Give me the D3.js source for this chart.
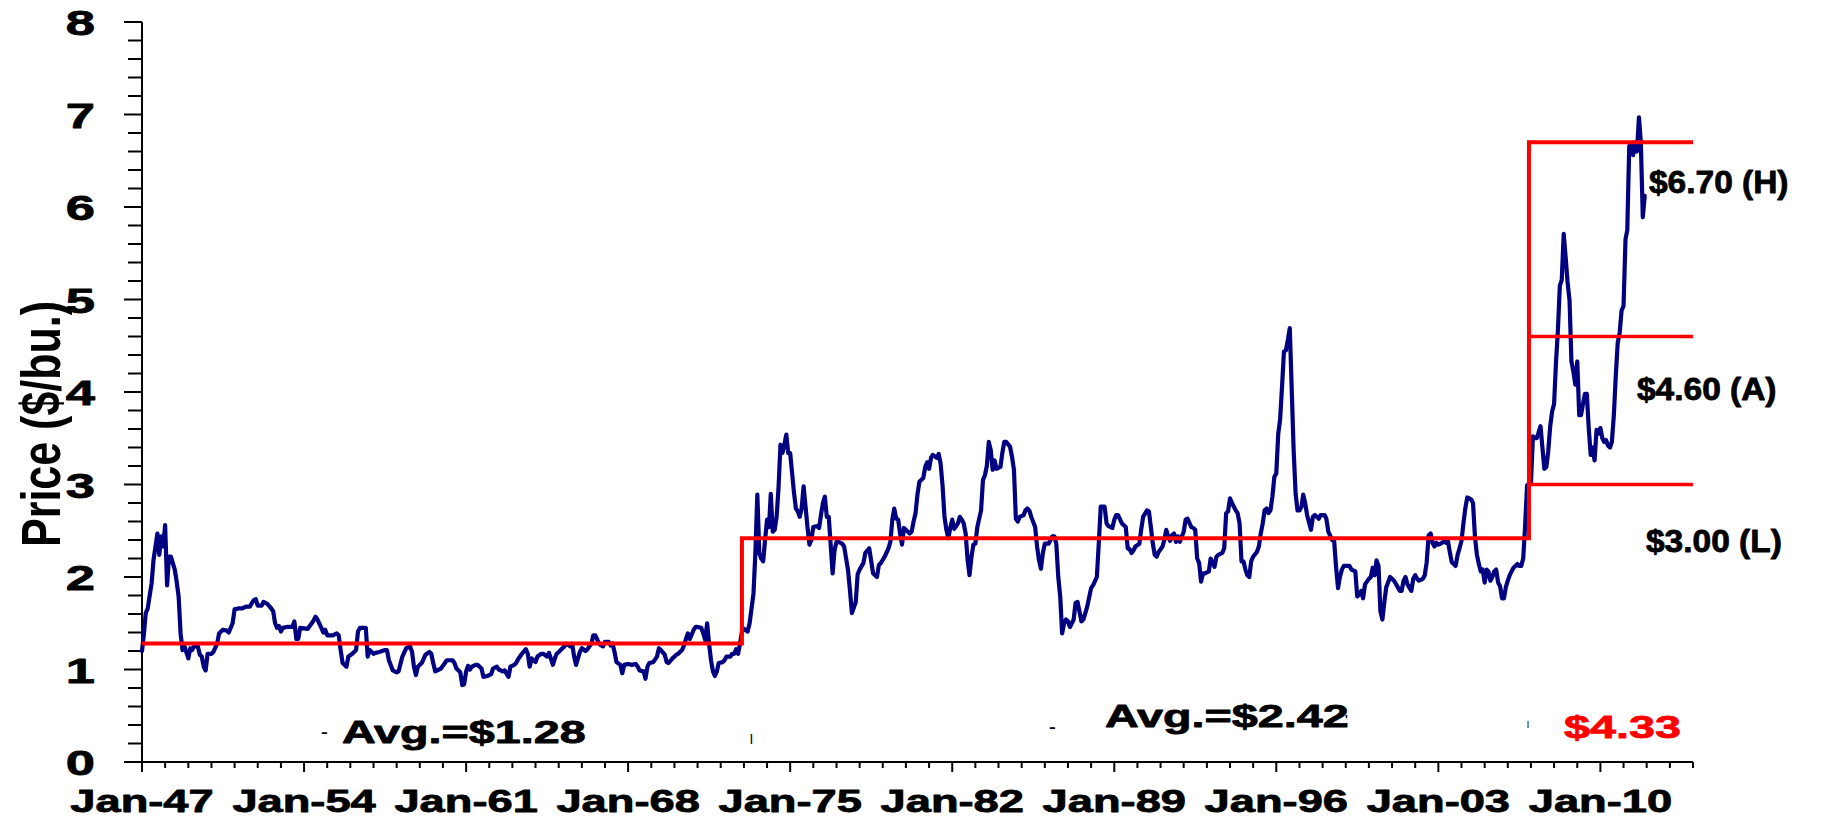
<!DOCTYPE html>
<html><head><meta charset="utf-8">
<script src="https://cdn.jsdelivr.net/npm/d3@7"></script>
<style>html,body{margin:0;padding:0;background:#fff;}svg{display:block;}</style>
</head><body>
<svg id="chart" width="1825" height="822"></svg>
<script>
// ---------------- DATA ----------------
// monthly corn price, [months since Jan-1947, $/bu]
const startMonth = "1947-01";
const corn1947to1959 = [[0,1.20],[1,1.39],[2,1.61],[3,1.66],[5,1.93],[6,2.18],[8,2.47],[9,2.24],[10,2.44],[11,2.33],[12,2.56],[13,1.91],[14,2.22],[15,2.22],[17,2.08],[18,1.95],[19,1.79],[20,1.39],[21,1.21],[22,1.25],[24,1.12],[25,1.23],[26,1.21],[27,1.25],[29,1.25],[30,1.16],[31,1.14],[32,1.03],[33,0.99],[34,1.17],[36,1.17],[37,1.19],[39,1.28],[40,1.39],[42,1.43],[44,1.42],[45,1.40],[47,1.50],[48,1.65],[50,1.66],[52,1.66],[54,1.68],[56,1.68],[57,1.72],[58,1.75],[59,1.76],[60,1.69],[62,1.69],[63,1.73],[65,1.71],[67,1.66],[68,1.63],[69,1.50],[70,1.45],[71,1.47],[72,1.41],[73,1.45],[75,1.46],[78,1.46],[79,1.52],[80,1.33],[81,1.33],[82,1.45],[86,1.44],[87,1.47],[89,1.53],[90,1.57],[91,1.54],[93,1.45],[94,1.40],[95,1.43],[96,1.37],[99,1.37],[101,1.39],[102,1.37],[103,1.21],[104,1.07],[106,1.03],[107,1.14],[109,1.17],[111,1.21],[112,1.41],[113,1.45],[116,1.45],[117,1.14],[118,1.21],[120,1.17],[121,1.18],[123,1.19],[126,1.21],[127,1.21],[128,1.10],[130,0.99],[132,0.97],[133,0.98],[135,1.14],[137,1.23],[139,1.25],[140,1.19],[141,1.03],[142,0.94],[143,1.03],[145,1.07],[147,1.16],[149,1.19],[150,1.17],[151,1.07],[152,0.98],[154,1.00]];
const corn1960to1972 = [[155,1.01],[157,1.07],[158,1.10],[161,1.10],[162,1.07],[163,1.01],[165,0.97],[166,0.83],[167,0.84],[168,0.98],[169,1.04],[170,1.00],[171,1.03],[173,1.05],[174,1.05],[176,1.01],[177,0.92],[179,0.93],[181,0.95],[182,1.01],[184,1.03],[185,1.00],[187,0.98],[188,0.99],[190,0.92],[191,1.03],[193,1.05],[194,1.07],[195,1.11],[197,1.17],[199,1.22],[200,1.17],[201,1.03],[202,1.12],[204,1.08],[205,1.14],[207,1.17],[208,1.17],[210,1.14],[211,1.18],[213,1.05],[214,1.12],[215,1.17],[216,1.19],[218,1.23],[219,1.25],[220,1.28],[222,1.25],[223,1.28],[224,1.14],[225,1.05],[226,1.12],[227,1.19],[228,1.23],[230,1.20],[231,1.22],[232,1.25],[233,1.28],[234,1.37],[235,1.37],[237,1.28],[238,1.26],[239,1.25],[240,1.30],[242,1.30],[243,1.26],[244,1.28],[245,1.19],[246,1.08],[248,1.05],[249,0.96],[250,1.05],[252,1.06],[254,1.05],[256,1.06],[257,1.03],[258,0.99],[260,0.98],[261,0.90],[262,1.03],[263,1.07],[265,1.08],[267,1.14],[268,1.23],[269,1.21],[271,1.16],[272,1.08],[273,1.07],[275,1.12],[277,1.16],[278,1.17],[280,1.21],[281,1.26],[282,1.33],[283,1.39],[284,1.33],[286,1.43],[287,1.46],[288,1.46],[290,1.45],[291,1.39],[292,1.32],[293,1.50],[294,1.28],[295,1.10],[296,0.98],[297,0.93],[298,0.98],[299,1.07],[301,1.08],[302,1.10],[303,1.14],[305,1.14],[306,1.17],[307,1.17],[308,1.22],[309,1.17],[310,1.28],[311,1.41]];
const corn1973to1985 = [[312,1.44],[314,1.41],[315,1.50],[317,1.82],[318,2.26],[319,2.89],[320,2.26],[321,2.20],[322,2.17],[323,2.40],[324,2.62],[325,2.54],[326,2.90],[327,2.49],[328,2.51],[329,2.65],[330,2.96],[331,3.43],[332,3.34],[333,3.43],[334,3.54],[335,3.34],[336,3.34],[337,3.12],[338,2.92],[339,2.74],[340,2.71],[341,2.65],[342,2.74],[343,2.98],[344,2.76],[345,2.54],[346,2.35],[347,2.40],[348,2.54],[350,2.55],[351,2.53],[352,2.67],[353,2.80],[354,2.87],[355,2.65],[356,2.65],[358,2.04],[359,2.29],[360,2.38],[361,2.38],[363,2.36],[364,2.33],[366,2.08],[367,1.86],[368,1.61],[370,1.73],[371,2.03],[372,2.08],[374,2.15],[375,2.26],[377,2.31],[378,2.18],[379,2.04],[381,2.00],[382,2.13],[383,2.15],[385,2.22],[387,2.31],[388,2.38],[389,2.62],[390,2.74],[391,2.63],[392,2.62],[393,2.47],[394,2.35],[395,2.53],[396,2.51],[398,2.47],[399,2.49],[400,2.60],[401,2.69],[402,2.89],[403,3.03],[405,3.07],[406,3.19],[407,3.24],[408,3.17],[409,3.29],[410,3.32],[412,3.29],[413,3.33],[414,3.23],[415,2.99],[416,2.65],[417,2.51],[418,2.42],[419,2.53],[420,2.62],[421,2.52],[423,2.58],[424,2.65],[425,2.62],[426,2.58],[427,2.47],[428,2.18],[429,2.02],[430,2.22],[431,2.35],[432,2.36],[433,2.54],[435,2.72],[436,3.05],[437,3.10],[438,3.20],[439,3.46],[440,3.37],[441,3.16],[442,3.26],[443,3.17],[445,3.19],[446,3.34],[447,3.46],[448,3.46],[450,3.41],[451,3.30],[452,3.16],[453,2.63],[454,2.60],[455,2.65],[457,2.67],[458,2.72],[459,2.74],[460,2.72],[461,2.65],[463,2.54],[464,2.33],[465,2.18],[466,2.09],[467,2.26]];
const corn1986to1998 = [[468,2.36],[470,2.36],[472,2.44],[473,2.44],[474,2.36],[475,2.00],[476,1.79],[477,1.39],[478,1.50],[479,1.54],[480,1.52],[481,1.46],[483,1.54],[484,1.72],[485,1.73],[486,1.63],[487,1.52],[488,1.54],[490,1.68],[492,1.88],[493,1.91],[495,2.00],[496,2.36],[497,2.76],[499,2.76],[500,2.58],[501,2.55],[503,2.53],[504,2.62],[505,2.67],[506,2.67],[508,2.58],[509,2.56],[510,2.54],[511,2.31],[512,2.30],[513,2.26],[514,2.29],[515,2.33],[517,2.36],[518,2.51],[519,2.65],[521,2.72],[522,2.71],[523,2.54],[524,2.36],[525,2.24],[526,2.22],[527,2.27],[529,2.33],[530,2.40],[531,2.51],[532,2.44],[533,2.39],[534,2.45],[535,2.47],[536,2.38],[537,2.44],[538,2.38],[540,2.49],[541,2.62],[542,2.63],[544,2.54],[545,2.53],[546,2.51],[547,2.20],[548,2.15],[549,1.95],[550,2.04],[551,2.04],[553,2.06],[554,2.20],[556,2.11],[557,2.22],[558,2.24],[560,2.26],[561,2.31],[562,2.69],[563,2.71],[564,2.85],[565,2.80],[567,2.72],[568,2.69],[569,2.58],[570,2.17],[571,2.17],[572,2.08],[573,2.02],[574,2.00],[575,2.17],[576,2.22],[578,2.27],[579,2.33],[580,2.47],[581,2.58],[582,2.72],[583,2.74],[584,2.69],[585,2.72],[586,2.87],[587,3.08],[588,3.12],[589,3.55],[590,3.70],[591,4.06],[592,4.44],[593,4.45],[594,4.56],[595,4.69],[596,4.02],[597,3.37],[598,2.90],[599,2.72],[600,2.72],[601,2.76],[602,2.89],[603,2.80],[604,2.67],[606,2.51],[607,2.65],[608,2.67],[610,2.63],[611,2.67],[613,2.67],[614,2.63],[615,2.49],[617,2.40],[618,2.40],[619,2.11],[620,1.88],[621,2.00]];
const corn1999to2011 = [[622,2.08],[623,2.12],[624,2.12],[626,2.12],[627,2.08],[629,2.06],[630,1.79],[631,1.81],[632,1.85],[633,1.77],[634,1.92],[636,1.98],[637,2.00],[638,2.10],[639,2.02],[640,2.18],[641,2.12],[642,1.63],[643,1.54],[644,1.73],[645,1.89],[647,2.00],[648,1.98],[649,1.96],[651,1.89],[652,1.85],[653,1.85],[654,1.96],[655,2.00],[656,1.92],[658,1.85],[659,1.98],[660,2.02],[661,1.98],[662,1.96],[664,1.98],[665,2.02],[666,2.16],[667,2.45],[668,2.47],[669,2.37],[670,2.33],[671,2.37],[672,2.35],[674,2.37],[675,2.39],[676,2.37],[677,2.39],[678,2.27],[679,2.16],[680,2.14],[681,2.12],[682,2.24],[683,2.31],[684,2.39],[685,2.58],[686,2.74],[687,2.86],[689,2.84],[690,2.80],[691,2.43],[692,2.24],[693,2.14],[694,2.06],[695,2.08],[696,1.94],[697,2.08],[698,2.06],[699,1.96],[700,2.00],[701,2.06],[702,2.08],[703,1.94],[704,1.90],[705,1.77],[706,1.77],[707,1.89],[708,1.96],[709,2.02],[710,2.06],[711,2.10],[712,2.12],[713,2.14],[714,2.12],[715,2.12],[716,2.20],[717,2.55],[718,2.99],[719,3.01],[720,3.01],[721,3.52],[722,3.50],[723,3.50],[724,3.56],[725,3.63],[726,3.40],[727,3.17],[728,3.19],[729,3.36],[730,3.63],[731,3.79],[732,3.87],[733,4.33],[734,4.66],[735,5.15],[736,5.21],[737,5.71],[738,5.46],[739,5.19],[740,4.99],[741,4.33],[742,4.22],[743,4.08],[744,4.33],[745,3.75],[746,3.75],[747,3.87],[748,3.98],[749,3.98],[750,3.61],[751,3.32],[752,3.40],[753,3.26],[754,3.59],[755,3.55],[756,3.61],[757,3.50],[758,3.46],[759,3.48],[760,3.42],[761,3.40],[762,3.46],[763,3.75],[764,4.18],[765,4.53],[766,4.64],[767,4.88],[768,4.93],[769,5.65],[770,5.75],[771,6.66],[772,6.68],[773,6.56],[774,6.70],[775,6.60],[776,6.97],[777,6.70],[778,5.89],[779,6.12]];

// period averages (step line)
const periodStarts = ["1947-01", "1972-12", "2006-12"];
const periodEnds   = ["1972-12", "2006-12", "2014-01"];
const periodAvgs   = [1.28, 2.42, 4.60];
const recentHigh = 6.70;
const recentLow  = 3.00;

// axes
const axisStart = "1947-01";
const axisEnd   = "2014-01";
const labelEveryYears = 7;
const yMax = 8;
const yMinorStep = 0.2;
const yTitle = "Price ($/bu.)";

// annotations
const avgLabels   = ["Avg.=$1.28", "Avg.=$2.42", "$4.33"];
const rangeLabels = ["$6.70 (H)", "$4.60 (A)", "$3.00 (L)"];

// ---------------- DRAW ----------------
const svg = d3.select("#chart");
const parse = d3.timeParse("%Y-%m");
const start = parse(startMonth);
const FONT = "'Liberation Sans', Arial, Helvetica, sans-serif";
const SX = 1.46; // horizontal text stretch of the original picture

const x = d3.scaleTime().domain([parse(axisStart), parse(axisEnd)]).range([142, 1693]);
const y = d3.scaleLinear().domain([0, yMax]).range([762, 22]);

const series = [].concat(corn1947to1959, corn1960to1972, corn1973to1985, corn1986to1998, corn1999to2011)
  .map(([m, v]) => ({ date: d3.timeMonth.offset(start, m), value: v }));

function boldText(sel, color) {
  return sel.attr("font-family", FONT).attr("font-weight", "bold")
    .attr("fill", color).attr("stroke", color).attr("stroke-width", 0.8)
    .attr("stroke-linejoin", "round");
}

// Y axis
const gy = svg.append("g");
gy.append("line").attr("x1", x.range()[0]).attr("x2", x.range()[0])
  .attr("y1", y(0)).attr("y2", y(yMax)).attr("stroke", "#000").attr("stroke-width", 2);
const yMinor = d3.range(0, yMax + 1e-9, yMinorStep);
gy.selectAll("line.tick").data(yMinor).join("line").attr("class", "tick")
  .attr("x1", d => x.range()[0] - (Math.abs(d - Math.round(d)) < 1e-6 ? 18 : 14))
  .attr("x2", x.range()[0])
  .attr("y1", d => y(d)).attr("y2", d => y(d))
  .attr("stroke", "#000").attr("stroke-width", 2);
boldText(gy.selectAll("text").data(y.ticks(yMax)).join("text"), "#000")
  .attr("transform", d => `translate(95,${y(d) + 13}) scale(${SX},1)`)
  .attr("text-anchor", "end").attr("font-size", 36).text(d => d);

// X axis
const gx = svg.append("g");
gx.append("line").attr("x1", x.range()[0] - 18).attr("x2", x.range()[1])
  .attr("y1", y(0)).attr("y2", y(0)).attr("stroke", "#000").attr("stroke-width", 2);
const years = d3.timeYear.range(parse(axisStart), d3.timeMonth.offset(parse(axisEnd), 1));
const isLabeled = d => (d.getFullYear() - start.getFullYear()) % labelEveryYears === 0;
gx.selectAll("line.tick").data(years).join("line").attr("class", "tick")
  .attr("x1", d => x(d)).attr("x2", d => x(d))
  .attr("y1", y(0)).attr("y2", d => y(0) + (isLabeled(d) ? 10 : 6))
  .attr("stroke", "#000").attr("stroke-width", 2);
const fmt = d3.timeFormat("%b-%y");
boldText(gx.selectAll("text").data(years.filter(isLabeled).filter(d => d < parse(axisEnd))).join("text"), "#000")
  .attr("transform", d => `translate(${x(d)},812) scale(${SX},1)`)
  .attr("text-anchor", "middle").attr("font-size", 31).text(d => fmt(d));

// Y title
svg.append("text")
  .attr("transform", "translate(60,424) scale(1.27,1) rotate(-90)")
  .attr("text-anchor", "middle").attr("font-family", FONT).attr("font-weight", "bold")
  .attr("font-size", 43).attr("fill", "#000").text(yTitle);

// Price line
svg.append("path").datum(series)
  .attr("fill", "none").attr("stroke", "#000080").attr("stroke-width", 4.2)
  .attr("stroke-linejoin", "round").attr("stroke-linecap", "round")
  .attr("d", d3.line().x(d => x(d.date)).y(d => y(d.value)));

// Average step line
const stepPts = [];
periodStarts.forEach((s, i) => {
  const v = i === periodStarts.length - 1 ? recentHigh : periodAvgs[i];
  stepPts.push([parse(s), v]);
  stepPts.push([parse(periodEnds[i]), v]);
});
svg.append("path").datum(stepPts)
  .attr("fill", "none").attr("stroke", "#ff0000").attr("stroke-width", 4)
  .attr("d", d3.line().x(d => x(d[0])).y(d => y(d[1])));
const last = periodStarts.length - 1;
[periodAvgs[last], recentLow].forEach(v => {
  svg.append("line")
    .attr("x1", x(parse(periodStarts[last]))).attr("x2", x(parse(periodEnds[last])))
    .attr("y1", y(v)).attr("y2", y(v))
    .attr("stroke", "#ff0000").attr("stroke-width", 3.4);
});

// Labels
function label(txt, px, py, size, sx, color, heavy) {
  const t = svg.append("text").attr("transform", `translate(${px},${py}) scale(${sx},1)`)
    .attr("font-size", size).text(txt);
  if (heavy) boldText(t, color);
  else t.attr("font-family", FONT).attr("font-weight", "bold").attr("fill", color);
}
label(avgLabels[0], 342, 743, 32, SX, "#000", true);
label(avgLabels[1], 1105, 727, 32, SX, "#000", true);
label(avgLabels[2], 1564, 738, 32, SX, "#ff0000", true);
label(rangeLabels[0], 1649, 193, 31, 1.08, "#000", true);
label(rangeLabels[1], 1637, 400, 31, 1.08, "#000", true);
label(rangeLabels[2], 1646, 552, 31, 1.08, "#000", true);
// small stray marks in the original
label("-", 321, 737, 14, SX, "#000", false);
label("-", 1049, 732, 14, SX, "#000", false);
label("|", 750, 742, 10, 1, "#000", false);
label("|", 1527, 726, 7, 1, "#000", false);
label("'", 1345, 724, 12, 1, "#000", false);
</script>
</body></html>
